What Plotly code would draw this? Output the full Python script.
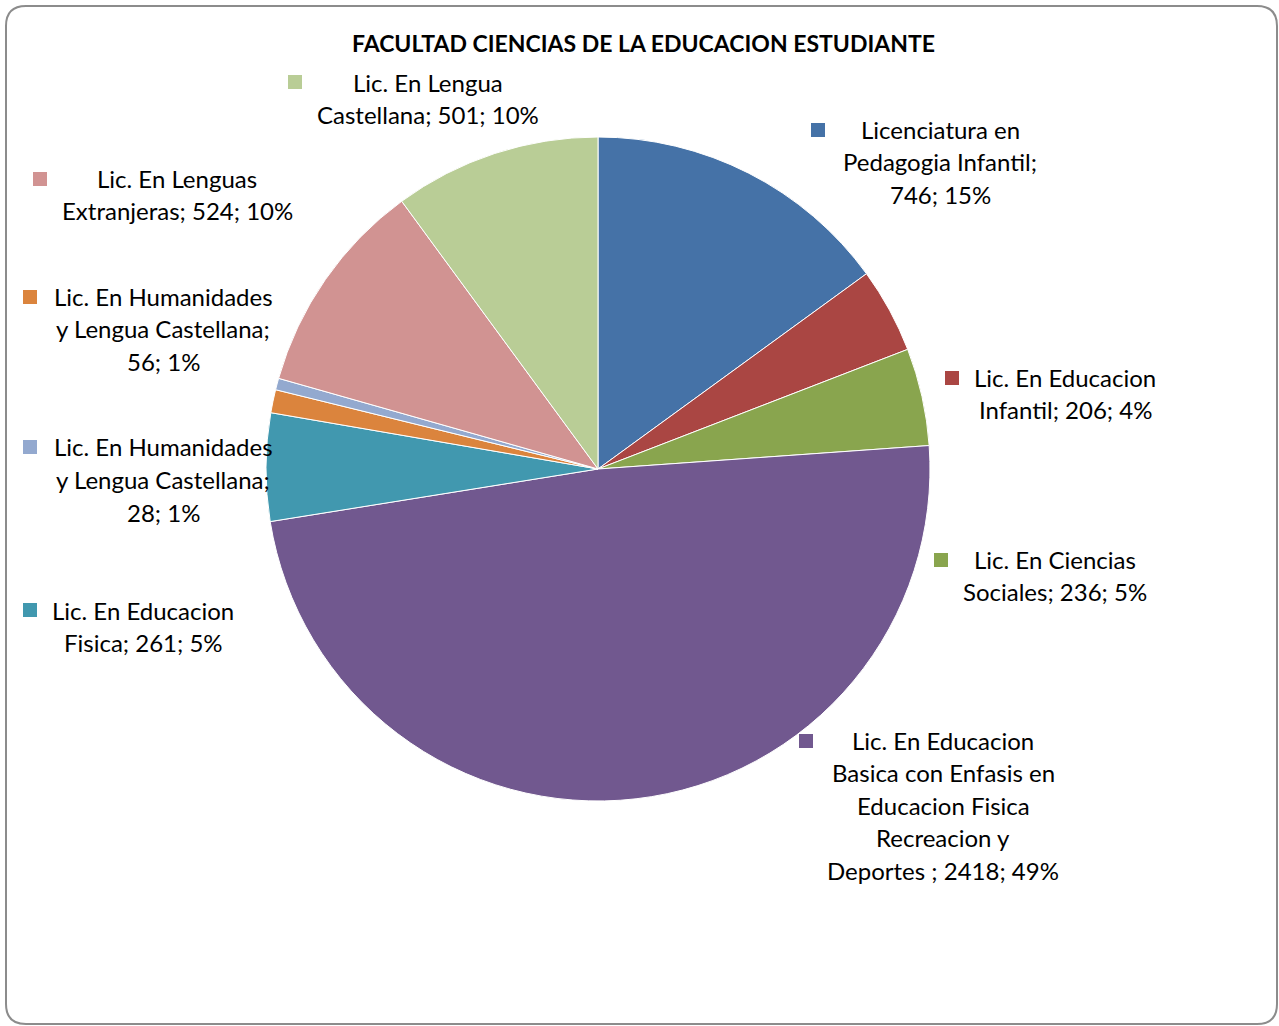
import plotly.graph_objects as go

W, H = 1279, 1026

# data (clockwise from 12 o'clock)
carreras = ["Licenciatura en Pedagogia Infantil", "Lic. En Educacion Infantil",
            "Lic. En Ciencias Sociales",
            "Lic. En Educacion Basica con Enfasis en Educacion Fisica Recreacion y Deportes ",
            "Lic. En Educacion Fisica", "Lic. En Humanidades y Lengua Castellana (56)",
            "Lic. En Humanidades y Lengua Castellana (28)", "Lic. En Lenguas Extranjeras",
            "Lic. En Lengua Castellana"]
estudiantes = [746, 206, 236, 2418, 261, 56, 28, 524, 501]
colores = ["#4572A7", "#AA4643", "#89A54E", "#71588F", "#4198AF",
           "#DB843D", "#93A9CF", "#D19392", "#B9CD96"]

# label text as shown in the chart
etiquetas = [
    ["Licenciatura en", "Pedagogia Infantil;", "746; 15%"],
    ["Lic. En Educacion", "Infantil; 206; 4%"],
    ["Lic. En Ciencias", "Sociales; 236; 5%"],
    ["Lic. En Educacion", "Basica con Enfasis en", "Educacion Fisica", "Recreacion y",
     "Deportes ; 2418; 49%"],
    ["Lic. En Educacion", "Fisica; 261; 5%"],
    ["Lic. En Humanidades", "y Lengua Castellana;", "56; 1%"],
    ["Lic. En Humanidades", "y Lengua Castellana;", "28; 1%"],
    ["Lic. En Lenguas", "Extranjeras; 524; 10%"],
    ["Lic. En Lengua", "Castellana; 501; 10%"],
]

# label placement in pixels: text centre x, first line y, legend square x, y
pos = [(940, 129, 818, 130), (1065, 377, 952, 378), (1055, 559, 941, 560),
       (943, 740, 806, 741), (143, 610, 30, 610), (163, 296, 30, 297),
       (163, 447, 30, 447), (177, 178, 40, 179), (428, 82, 295, 82)]

def px(x):
    return x / W

def py(y):
    return 1 - y / H

cx, cy, r = 598, 469, 332

fig = go.Figure(go.Pie(
    labels=carreras, values=estudiantes, sort=False, direction="clockwise",
    rotation=0, textinfo="none", hoverinfo="label+value+percent",
    marker=dict(colors=colores, line=dict(color="white", width=1)),
    domain=dict(x=[px(cx - r), px(cx + r)], y=[py(cy + r), py(cy - r)]),
    showlegend=False))

fnt = "Lato, Calibri, sans-serif"
shapes = []
annotations = []
for lines, (tx, ty, sx, sy), c in zip(etiquetas, pos, colores):
    for i, t in enumerate(lines):
        annotations.append(dict(text=t, x=px(tx), y=py(ty + i * 32.5), xref="paper", yref="paper",
                                showarrow=False, xanchor="center", yanchor="middle",
                                font=dict(family=fnt, size=24, color="#000")))
    shapes.append(dict(type="rect", xref="paper", yref="paper", x0=px(sx - 7), x1=px(sx + 7),
                       y0=py(sy + 7), y1=py(sy - 7), fillcolor=c, line=dict(width=0)))

annotations.append(dict(text="<b>FACULTAD CIENCIAS DE LA EDUCACION ESTUDIANTE</b>",
                        x=px(643), y=py(43), xref="paper", yref="paper", showarrow=False,
                        xanchor="center", yanchor="middle",
                        font=dict(family=fnt, size=23, color="#000")))

# rounded chart border
x0, y0, x1, y1, rr = 6, 6, 1277, 1024, 20
path = (f"M {px(x0+rr)} {py(y0)} L {px(x1-rr)} {py(y0)} Q {px(x1)} {py(y0)} {px(x1)} {py(y0+rr)} "
        f"L {px(x1)} {py(y1-rr)} Q {px(x1)} {py(y1)} {px(x1-rr)} {py(y1)} "
        f"L {px(x0+rr)} {py(y1)} Q {px(x0)} {py(y1)} {px(x0)} {py(y1-rr)} "
        f"L {px(x0)} {py(y0+rr)} Q {px(x0)} {py(y0)} {px(x0+rr)} {py(y0)} Z")
shapes.append(dict(type="path", xref="paper", yref="paper", path=path,
                   line=dict(color="#8c8c8c", width=2)))

fig.update_layout(width=W, height=H, margin=dict(l=0, r=0, t=0, b=0),
                  paper_bgcolor="white", plot_bgcolor="white",
                  shapes=shapes, annotations=annotations)

fig.write_html("out.html", config={"displayModeBar": False},
               post_script="document.body.style.margin='0';")
